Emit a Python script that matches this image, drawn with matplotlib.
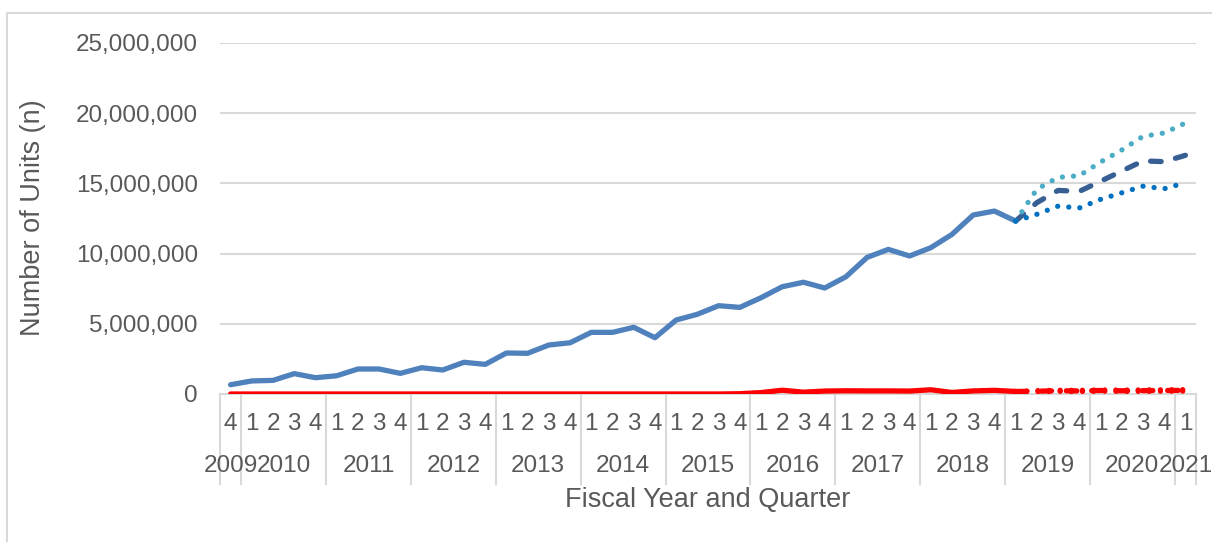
import matplotlib.pyplot as plt
import matplotlib.ticker as mticker
from matplotlib.patches import Rectangle

plt.rcParams['font.family'] = ['Liberation Sans', 'DejaVu Sans']

# quarterly categories, FY2009 Q4 .. FY2021 Q1
years = ['2009', '2010', '2011', '2012', '2013', '2014', '2015',
         '2016', '2017', '2018', '2019', '2020', '2021']
quarters_per_year = [1, 4, 4, 4, 4, 4, 4, 4, 4, 4, 4, 4, 1]
quarters = ['4'] + ['1', '2', '3', '4'] * 11 + ['1']

# actual totals, 2009 Q4 .. 2019 Q1
actual = [660000, 930000, 970000, 1450000, 1160000, 1300000, 1780000, 1780000,
          1470000, 1870000, 1710000, 2260000, 2110000, 2920000, 2900000, 3490000,
          3650000, 4390000, 4390000, 4750000, 4010000, 5270000, 5680000, 6290000,
          6170000, 6860000, 7640000, 7960000, 7550000, 8350000, 9730000, 10300000,
          9830000, 10420000, 11370000, 12750000, 13030000, 12320000]
# forecast with bounds, 2019 Q1 .. 2021 Q1
forecast = [12320000, 13630000, 14500000, 14430000, 15150000, 15880000,
            16600000, 16550000, 17000000]
upper = [12320000, 14580000, 15430000, 15550000, 16520000, 17380000,
         18350000, 18590000, 19300000]
lower = [12320000, 12800000, 13380000, 13250000, 13860000, 14330000,
         14800000, 14620000, 15050000]

# second series, near zero
actual2 = [0] * 24 + [20000, 100000, 270000, 130000, 210000, 230000, 220000,
                      220000, 210000, 300000, 110000, 220000, 260000, 180000]
forecast2 = [180000, 200000, 230000, 220000, 250000, 230000, 240000, 250000, 260000]
upper2 = [180000, 240000, 270000, 260000, 290000, 280000, 290000, 300000, 310000]
lower2 = [180000, 170000, 190000, 180000, 200000, 190000, 190000, 200000, 210000]

grey = '#595959'
grid = '#D9D9D9'

fig = plt.figure(figsize=(12.12, 5.42), dpi=100)
W, H = 1212, 542
ax = fig.add_axes([220 / W, 1 - 394 / H, (1196 - 220) / W, (394 - 43) / H])

x_act = list(range(len(actual)))
x_fc = list(range(len(actual) - 1, len(actual) - 1 + len(forecast)))

dot = (0, (0.01, 2.1))
dash = (0, (2, 2.8))
lw = 3.8

ax.plot(x_act, actual2, color='#FF0000', lw=lw, solid_capstyle='round', zorder=3)
ax.plot(x_fc, forecast2, color='#FF0000', lw=lw, ls=dash, dash_capstyle='round', zorder=3)
ax.plot(x_fc, upper2, color='#FF0000', lw=lw, ls=dot, dash_capstyle='round', zorder=3)
ax.plot(x_fc, lower2, color='#FF0000', lw=lw, ls=dot, dash_capstyle='round', zorder=3)

ax.plot(x_act, actual, color='#4F81BD', lw=lw, solid_capstyle='round',
        solid_joinstyle='round', zorder=4)
ax.plot(x_fc, forecast, color='#375F93', lw=lw, ls=dash, dash_capstyle='round', zorder=4)
ax.plot(x_fc, upper, color='#4BACC6', lw=lw, ls=dot, dash_capstyle='round', zorder=4)
ax.plot(x_fc, lower, color='#0070C0', lw=lw, ls=dot, dash_capstyle='round', zorder=4)

n = len(quarters)
ax.set_xlim(-0.5, n - 0.5)
ax.set_ylim(0, 25000000)
ax.yaxis.set_major_locator(mticker.MultipleLocator(5000000))
ax.yaxis.set_major_formatter(mticker.FuncFormatter(lambda v, p: f'{int(v):,}'))
ax.grid(axis='y', color=grid, lw=1.5)
ax.set_axisbelow(True)
for s in ['top', 'right', 'left']:
    ax.spines[s].set_visible(False)
ax.spines['bottom'].set_color(grid)
ax.spines['bottom'].set_linewidth(1.5)
ax.tick_params(axis='y', length=0, pad=16, labelsize=17.5, labelcolor=grey)
ax.set_xticks([])

# two-level category axis: quarter row, year row and year separators
tr = ax.get_xaxis_transform()
ax_h = 394 - 43
for i, q in enumerate(quarters):
    ax.text(i, -(424 - 394) / ax_h, q, transform=tr, ha='center', va='center',
            fontsize=17.5, color=grey)
start = 0
bounds = [-0.5]
for yr, cnt in zip(years, quarters_per_year):
    mid = start + (cnt - 1) / 2
    ax.text(mid, -(466 - 394) / ax_h, yr, transform=tr, ha='center', va='center',
            fontsize=17.5, color=grey)
    start += cnt
    bounds.append(start - 0.5)
for b in bounds:
    ax.plot([b, b], [0, -(484 - 394) / ax_h], transform=tr, color=grid, lw=1.5,
            clip_on=False, zorder=1)

fig.text(708 / W, 1 - 500 / H, 'Fiscal Year and Quarter', ha='center', va='center',
         fontsize=19.5, color=grey)
fig.text(33 / W, 1 - 218 / H, 'Number of Units (n)', ha='center', va='center',
         rotation=90, fontsize=19.5, color=grey)

# chart area border
fig.patches.append(Rectangle((7 / W, -0.1), 1.2, 1 - 13 / H + 0.1,
                             transform=fig.transFigure, fill=False,
                             edgecolor=grid, lw=1.5))

fig.savefig('out.png', dpi=100)
